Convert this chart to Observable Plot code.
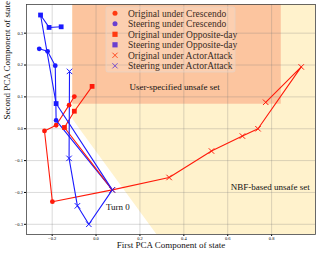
<!DOCTYPE html>
<html><head><meta charset="utf-8">
<script src="https://cdn.jsdelivr.net/npm/d3@7"></script>
<script src="https://cdn.jsdelivr.net/npm/@observablehq/plot@0.6"></script>
<style>body{margin:0;background:#fff}</style>
</head><body><div id="chart"></div>
<script>
// ---- data ----
const turn0 = [0.074, -0.192];
const origCrescendoX = [-0.199, -0.235, -0.182, -0.123, -0.099];
const origCrescendoY = [-0.229, -0.007, 0.011, 0.074, 0.101];
const steerCrescendoX = [-0.182, -0.186, -0.221, -0.259];
const steerCrescendoY = [0.026, 0.198, 0.243, 0.251];
const origOppositeX = [-0.144, -0.099, -0.018];
const origOppositeY = [0.004, 0.055, 0.133];
const steerOppositeX = [-0.182, -0.253, -0.214, -0.159];
const steerOppositeY = [0.079, 0.357, 0.318, 0.32];
const origActorX = [0.333, 0.526, 0.667, 0.738, 0.935, 0.773];
const origActorY = [-0.153, -0.070, -0.023, 0.0, 0.194, 0.083];
const steerActorX = [-0.033, -0.085, -0.123, -0.121];
const steerActorY = [-0.3, -0.242, -0.093, 0.18];

// unsafe regions
const userSet = {x1: -0.106, x2: 0.844, y1: 0.077, y2: 0.4};
const nbfX = [-0.106, -0.075, 0.285, 1.05];
const nbfYlow = [0.03, 0.0, -0.34, -0.34];
const nbfYtop = 0.4;

const xTicks = [-0.2, 0.0, 0.2, 0.4, 0.6, 0.8];
const yTicks = [-0.3, -0.2, -0.1, 0.0, 0.1, 0.2, 0.3];

const legendLabels = ["Original under Crescendo", "Steering under Crescendo",
  "Original under Opposite-day", "Steering under Opposite-day",
  "Original under ActorAttack", "Steering under ActorAttack"];

const RED = "#ff1a0a", BLUE = "#1a1aff";
const FONT = "'Liberation Serif', 'DejaVu Serif', serif";

function pts(xs, ys, withT0) {
  const p = xs.map((x, i) => ({x, y: ys[i]}));
  return withT0 ? [{x: turn0[0], y: turn0[1]}, ...p] : p;
}
const series = [
  {xs: origCrescendoX, ys: origCrescendoY, c: RED, sym: "circle"},
  {xs: steerCrescendoX, ys: steerCrescendoY, c: BLUE, sym: "circle"},
  {xs: origOppositeX, ys: origOppositeY, c: RED, sym: "square"},
  {xs: steerOppositeX, ys: steerOppositeY, c: BLUE, sym: "square"},
  {xs: origActorX, ys: origActorY, c: RED, sym: "times"},
  {xs: steerActorX, ys: steerActorY, c: BLUE, sym: "times"}
];

const marks = [
  Plot.areaY(nbfX.map((x, i) => ({x, y1: nbfYlow[i], y2: nbfYtop})), {x: "x", y1: "y1", y2: "y2", fill: "#fff2cc", clip: true}),
  Plot.rect([userSet], {x1: "x1", x2: "x2", y1: "y1", y2: "y2", fill: "#fcc59f", clip: true}),
  Plot.gridX(xTicks, {stroke: "#777", strokeOpacity: 0.35, strokeWidth: 0.8}),
  Plot.gridY(yTicks, {stroke: "#777", strokeOpacity: 0.35, strokeWidth: 0.8}),
  Plot.axisX(xTicks, {tickSize: 2, tickPadding: 0.5, fontSize: 4.5, tickFormat: d3.format(".1f"), label: null, fontFamily: FONT}),
  Plot.axisY(yTicks, {tickSize: 2, tickPadding: 1.5, fontSize: 4.5, tickFormat: d3.format(".1f"), label: null, fontFamily: FONT}),
];
for (const s of series) {
  marks.push(Plot.line(pts(s.xs, s.ys, true), {x: "x", y: "y", stroke: s.c, strokeWidth: 1.1, clip: true}));
}
for (const s of series) {
  const data = pts(s.xs, s.ys, s.sym === "times");
  if (s.sym === "times") {
    marks.push(Plot.dot(data, {x: "x", y: "y", symbol: "times", r: 2.6, stroke: s.c, strokeWidth: 1}));
  } else {
    marks.push(Plot.dot(data, {x: "x", y: "y", symbol: s.sym, r: s.sym === "square" ? 2.7 : 2.4, fill: s.c, stroke: "none"}));
  }
}
marks.push(
  Plot.text(["User-specified unsafe set"], {x: 0.152, y: 0.13, textAnchor: "start", fontSize: 9, fontFamily: FONT, fill: "#111"}),
  Plot.text(["NBF-based unsafe set"], {x: 0.614, y: -0.182, textAnchor: "start", fontSize: 9, fontFamily: FONT, fill: "#111"}),
  Plot.text(["Turn 0"], {x: 0.045, y: -0.247, textAnchor: "start", fontSize: 9, fontFamily: FONT, fill: "#111"}),
  Plot.text(["First PCA Component of state"], {frameAnchor: "bottom", dy: 13.5, fontSize: 9, fontFamily: FONT, fill: "#111"}),
  Plot.text(["Second PCA Component of state"], {frameAnchor: "left", dx: -19.5, rotate: -90, fontSize: 9, fontFamily: FONT, fill: "#111"}),
  Plot.frame({stroke: "#444", strokeWidth: 0.8})
);

const chart = Plot.plot({
  width: 319, height: 254,
  marginLeft: 26, marginRight: 4, marginTop: 4, marginBottom: 20,
  x: {domain: [-0.317, 1.0]},
  y: {domain: [-0.332, 0.39]},
  style: {fontFamily: FONT, background: "#fff"},
  marks
});
document.getElementById("chart").appendChild(chart);

// legend inside plot area (upper center)
const svg = d3.select(chart);
const lg = svg.append("g").attr("transform", "translate(106,7)").attr("text-anchor", "start");
lg.append("rect").attr("width", 129).attr("height", 65).attr("rx", 2)
  .attr("fill", "#fff").attr("fill-opacity", 0.18).attr("stroke", "#e6d2c4").attr("stroke-width", 0.8);
const legendColors = ["#ff3a10", "#6a3fd0", "#ff3a10", "#6a3fd0", "#ff3a10", "#6a3fd0"];
const legendSyms = ["circle", "circle", "square", "square", "times", "times"];
legendLabels.forEach((lab, i) => {
  const cy = 6.3 + i * 10.5;
  const g = lg.append("g").attr("transform", `translate(9,${cy})`);
  const c = legendColors[i];
  if (legendSyms[i] === "circle") g.append("circle").attr("r", 2.5).attr("fill", c);
  else if (legendSyms[i] === "square") g.append("rect").attr("x", -2.6).attr("y", -2.6).attr("width", 5.2).attr("height", 5.2).attr("fill", c);
  else g.append("path").attr("d", "M-2.6,-2.6L2.6,2.6M-2.6,2.6L2.6,-2.6").attr("stroke", c).attr("stroke-width", 0.9);
  lg.append("text").attr("x", 22).attr("y", cy).attr("dy", "0.35em").attr("text-anchor", "start")
    .attr("font-size", 9.5).attr("font-family", FONT).attr("fill", "#3a2a20").text(lab);
});
</script></body></html>
